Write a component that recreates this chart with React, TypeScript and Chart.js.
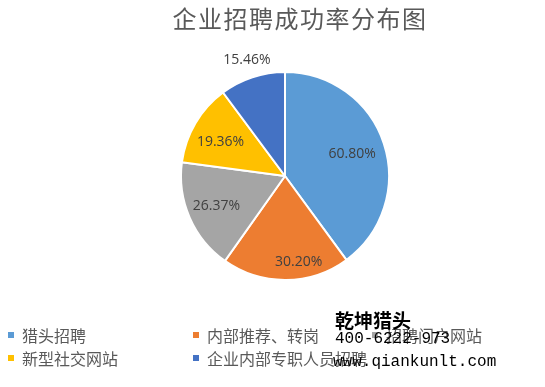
import React, { useEffect, useRef } from "react";
import { Chart, registerables } from "chart.js";

Chart.register(...registerables);

const TITLE = "企业招聘成功率分布图";
const categories = ["猎头招聘", "内部推荐、转岗", "招聘门户网站", "新型社交网站", "企业内部专职人员招聘"];
const values = [60.8, 30.2, 26.37, 19.36, 15.46];
const colors = ["#5B9BD5", "#ED7D31", "#A5A5A5", "#FFC000", "#4472C4"];
const watermark = ["乾坤猎头", "400-6222-973", "www.qiankunlt.com"];

const CJK = '"Noto Sans CJK SC", "Noto Sans", sans-serif';

// radial placement of each value label, as a fraction of the radius, and a small angular nudge (radians)
const labelRadius = [0.68, 0.84, 0.72, 0.7, 1.17];
const labelNudge = [0, -0.15, 0, -0.05, 0];

const labelPlugin = {
  id: "sliceLabels",
  afterDatasetsDraw(chart: any) {
    const ctx = chart.ctx;
    const meta = chart.getDatasetMeta(0);
    ctx.save();
    ctx.font = '14px "Open Sans", "Noto Sans", sans-serif';
    ctx.fillStyle = "#404040";
    ctx.textAlign = "center";
    ctx.textBaseline = "middle";
    meta.data.forEach((arc: any, i: number) => {
      const p = arc.getProps(["x", "y", "startAngle", "endAngle", "outerRadius"], true);
      const mid = (p.startAngle + p.endAngle) / 2 + labelNudge[i];
      const f = labelRadius[i];
      const text = values[i].toFixed(2) + "%";
      ctx.fillText(text, p.x + Math.cos(mid) * p.outerRadius * f, p.y + Math.sin(mid) * p.outerRadius * f);
    });
    ctx.restore();
  },
};

const titlePlugin = {
  id: "customTitle",
  afterDraw(chart: any) {
    const ctx = chart.ctx;
    ctx.save();
    ctx.font = "24px " + CJK;
    (ctx as any).letterSpacing = "1.5px";
    ctx.fillStyle = "#595959";
    ctx.textAlign = "center";
    ctx.textBaseline = "middle";
    ctx.fillText(TITLE, 300, 19);
    ctx.restore();
  },
};

export default function App() {
  const ref = useRef<HTMLCanvasElement>(null);

  useEffect(() => {
    document.body.style.margin = "0";
    const chart = new Chart(ref.current as HTMLCanvasElement, {
      type: "pie",
      data: {
        labels: categories,
        datasets: [
          {
            data: values,
            backgroundColor: colors,
            borderColor: "#ffffff",
            borderWidth: 2,
          },
        ],
      },
      options: {
        responsive: false,
        animation: false,
        layout: { padding: { left: 180, right: 155, top: 71, bottom: 106 } },
        plugins: {
          legend: { display: false },
          title: { display: false },
          tooltip: { enabled: false },
        },
      },
      plugins: [labelPlugin, titlePlugin],
    });
    return () => chart.destroy();
  }, []);

  const legendCols = [8, 193, 372];
  const legendRows = [335, 358];

  return (
    <div style={{ position: "relative", width: 545, height: 387, background: "#fff", overflow: "hidden" }}>
      <canvas ref={ref} width={545} height={387} style={{ position: "absolute", left: 0, top: 0 }} />
      {categories.map((c, i) => {
        const col = i % 3;
        const row = Math.floor(i / 3);
        return (
          <div
            key={c}
            style={{
              position: "absolute",
              left: legendCols[col],
              top: legendRows[row] - 11,
              height: 22,
              lineHeight: "22px",
              display: "flex",
              alignItems: "center",
              whiteSpace: "nowrap",
              fontFamily: CJK,
              fontSize: 16,
              color: "#595959",
            }}
          >
            <span style={{ display: "inline-block", width: 6, height: 6, background: colors[i], marginRight: 8 }} />
            <span>{c}</span>
          </div>
        );
      })}
      <div
        style={{
          position: "absolute",
          left: 335,
          top: 309,
          lineHeight: "22px",
          fontFamily: CJK,
          fontWeight: "bold",
          fontSize: 19,
          color: "#000",
          whiteSpace: "nowrap",
        }}
      >
        {watermark[0]}
      </div>
      <div
        style={{
          position: "absolute",
          left: 335,
          top: 329,
          lineHeight: "20px",
          fontFamily: '"Liberation Mono", "DejaVu Sans Mono", monospace',
          fontSize: 16,
          color: "#000",
          whiteSpace: "nowrap",
        }}
      >
        {watermark[1]}
      </div>
      <div
        style={{
          position: "absolute",
          left: 333,
          top: 352,
          lineHeight: "20px",
          fontFamily: '"Liberation Mono", "DejaVu Sans Mono", monospace',
          fontSize: 16,
          color: "#000",
          whiteSpace: "nowrap",
        }}
      >
        {watermark[2]}
      </div>
    </div>
  );
}
